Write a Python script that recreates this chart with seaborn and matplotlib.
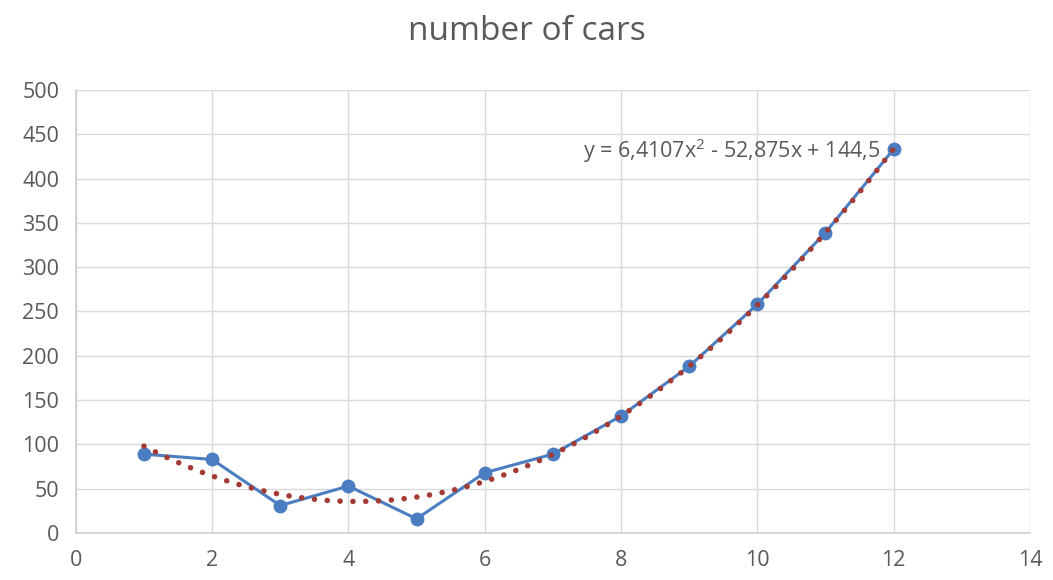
import pandas as pd
import numpy as np
import matplotlib
matplotlib.use("Agg")
import matplotlib.pyplot as plt
import seaborn as sns

# ---------- data ----------
months = [1, 2, 3, 4, 5, 6, 7, 8, 9, 10, 11, 12]
cars = [89, 83, 31, 53, 16, 68, 89, 132, 188, 258, 339, 433]
trend_label = "y = 6,4107x$^{2}$ - 52,875x + 144,5"
df = pd.DataFrame({"x": months, "cars": cars})

sns.set_style("white")
plt.rcParams["font.family"] = ["Open Sans", "DejaVu Sans"]
plt.rcParams["mathtext.fontset"] = "custom"
plt.rcParams["mathtext.rm"] = "Open Sans"
plt.rcParams["mathtext.default"] = "regular"

fig = plt.figure(figsize=(10.53, 5.8), dpi=100)
ax = fig.add_axes([0.072, 0.081, 0.906, 0.764])

# ---------- series ----------
sns.lineplot(data=df, x="x", y="cars", ax=ax, color="#4a7dc1", lw=2.2,
             marker="o", markersize=10, markeredgewidth=0, zorder=3)

# ---------- polynomial trendline (order 2) ----------
sns.regplot(data=df, x="x", y="cars", ax=ax, order=2, ci=None, scatter=False,
            truncate=True,
            line_kws=dict(color="#a33a33", lw=4, ls=(0, (0.01, 2.3)),
                          dash_capstyle="round", zorder=4))

ax.text(12 - 0.2, 433 - 2, trend_label, ha="right", va="center",
        fontsize=15.5, color="#595959")

# ---------- axes ----------
ax.set_xlim(0, 14)
ax.set_ylim(0, 500)
ax.set_xticks(range(0, 15, 2))
ax.set_yticks(range(0, 501, 50))
ax.grid(True, color="#d9d9d9", lw=1)
ax.set_axisbelow(True)
for s in ["top", "right"]:
    ax.spines[s].set_visible(False)
for s in ["left", "bottom"]:
    ax.spines[s].set_color("#d0d0d0")
    ax.spines[s].set_linewidth(1.2)
ax.tick_params(axis="both", length=0, labelsize=15.5, colors="#595959")
ax.tick_params(axis="x", pad=12)
ax.tick_params(axis="y", pad=12)
ax.set_xlabel("")
ax.set_ylabel("")

fig.suptitle("number of cars", fontsize=24, color="#595959", y=0.975)

fig.savefig("out.png", dpi=100)
